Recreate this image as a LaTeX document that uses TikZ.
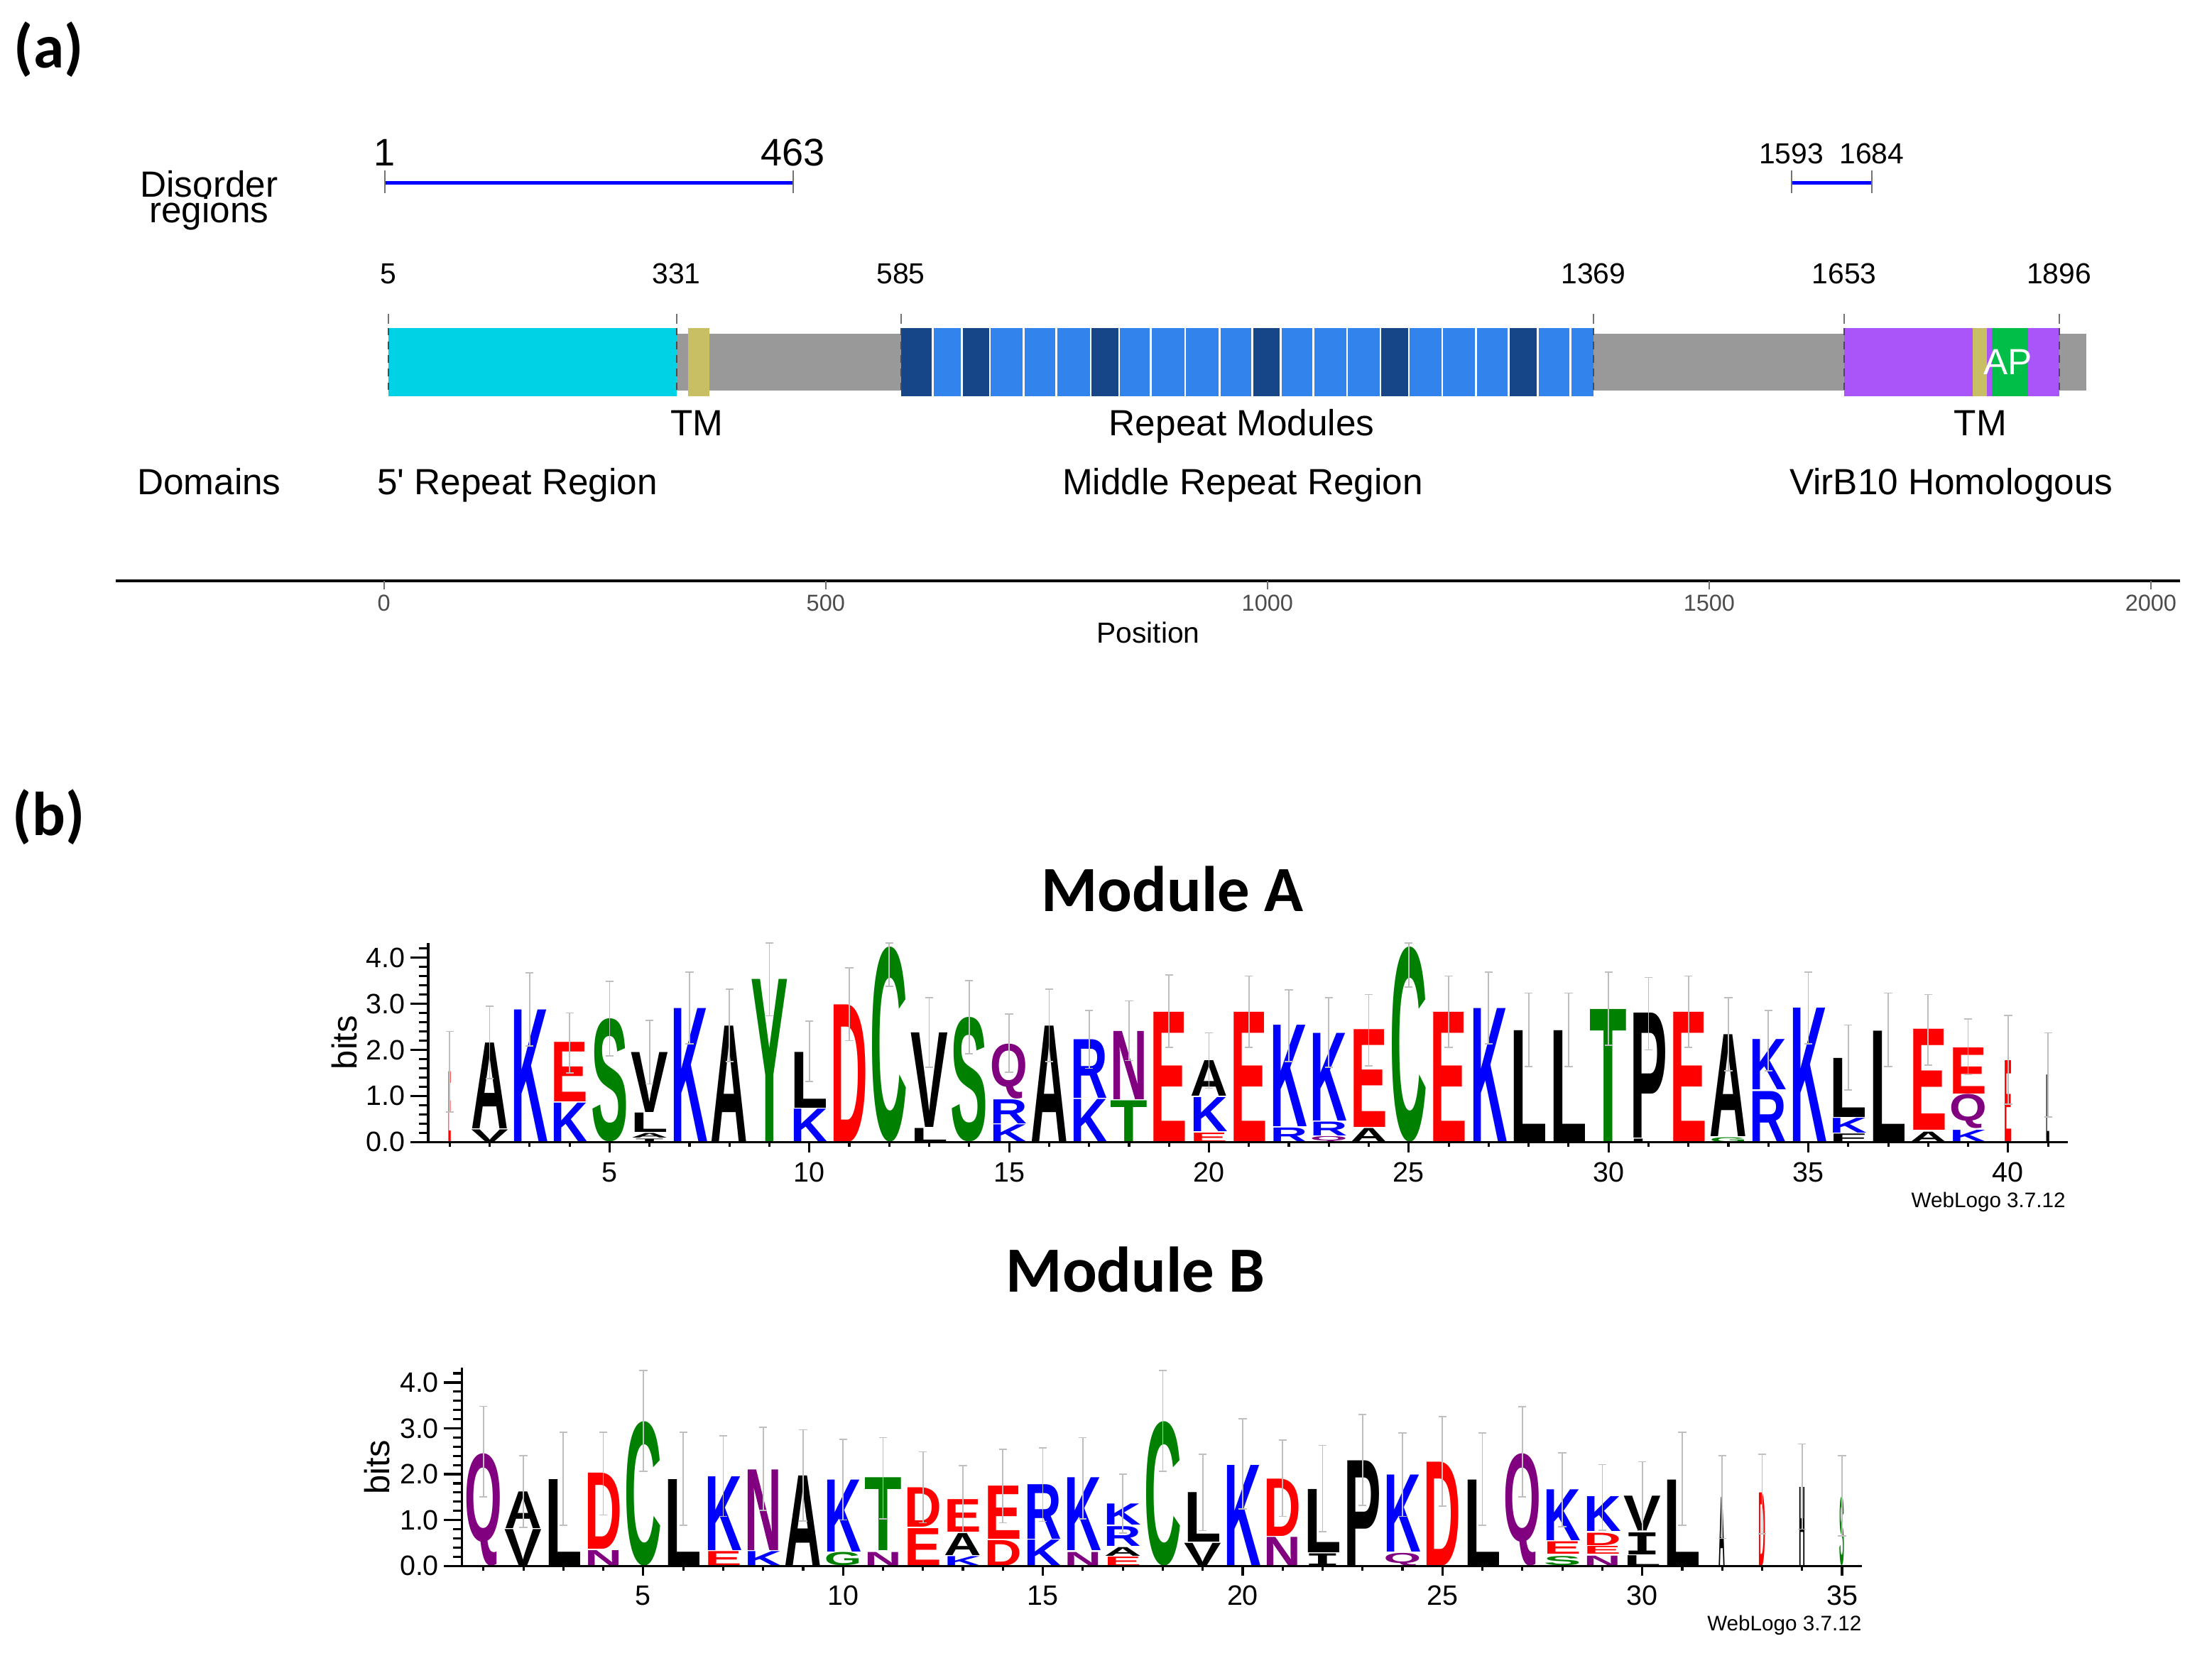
\documentclass[tikz,border=0pt]{standalone}
\usepackage{fontspec}
\usepackage{graphicx}
\setmainfont{Liberation Sans}
\newfontfamily\headfont{Carlito}
\newfontfamily\slabfont{DejaVu Sans Mono}
\newfontfamily\quotefont{Liberation Sans}[Ligatures=TeXOff]
\definecolor{cyanbox}{RGB}{0,210,230}
\definecolor{khaki}{RGB}{200,190,100}
\definecolor{greybar}{RGB}{153,153,153}
\definecolor{lightrep}{RGB}{50,132,236}
\definecolor{darkrep}{RGB}{22,70,135}
\definecolor{virb}{RGB}{170,85,250}
\definecolor{apgreen}{RGB}{0,190,72}
\definecolor{lblue}{RGB}{0,0,255}
\definecolor{lred}{RGB}{255,0,0}
\definecolor{lgreen}{RGB}{0,128,0}
\definecolor{lpurple}{RGB}{128,0,128}
\begin{document}
\begin{tikzpicture}[x=0.02cm, y=-0.02cm,
panel/.style={font=\headfont\bfseries\fontsize{25}{30}\selectfont, inner sep=0},
modtitle/.style={font=\headfont\bfseries\fontsize{26}{31}\selectfont, inner sep=0},
lbl/.style={font=\fontsize{14.7}{17}\selectfont, inner sep=0, anchor=base},
bignum/.style={font=\fontsize{15.5}{18}\selectfont, inner sep=0, anchor=base},
num/.style={font=\fontsize{11.7}{14}\selectfont, inner sep=0, anchor=base},
axnum/.style={font=\fontsize{9.3}{11}\selectfont, text=black!70, inner sep=0, anchor=base},
edgetick/.style={draw=black!55, line width=0.6pt},
domedge/.style={draw=black!70, dash pattern=on 3pt off 2.5pt, line width=0.6pt},
disline/.style={draw=blue, line width=1.4pt},
letter/.style={inner sep=0, outer sep=0, anchor=south, font=\bfseries},
errbar/.style={draw=black!25, line width=0.5pt},
logoaxis/.style={draw=black, line width=0.9pt},
ticklbl/.style={font=\fontsize{11.3}{13}\selectfont, inner sep=0},
bitslbl/.style={font=\fontsize{14}{16}\selectfont, inner sep=0},
wlogo/.style={font=\fontsize{8.5}{10}\selectfont, inner sep=0}]

\useasboundingbox (0,0) rectangle (1568,1182);

% (a) domain map
\node[panel] (pa) at (34.5,35) {(a)};
\begin{scope}[shift={(272.2,0)}, x=0.012527cm]
\node[lbl] (disorder) at (-198,139.5) {Disorder};
\node[lbl] (regions) at (-198,158) {regions};
\draw[disline] (1,129.7) -- (463,129.7);
\draw[disline] (1593,129.7) -- (1684,129.7);
\foreach \r in {1,463,1593,1684}
  \draw[edgetick] (\r,121) -- (\r,137);
\node[bignum] (d1) at (1,117.4) {1};
\node[bignum] (d463) at (463,117.4) {463};
\node[num] (d1593) at (1593,116) {1593};
\node[num] (d1684) at (1684,116) {1684};
\foreach \r in {5,331,585,1369,1653,1896} {
  \node[num] (n\r) at (\r,201.3) {\r};
  \draw[edgetick] (\r,222.7) -- (\r,229.4);
}
% protein bar
\fill[greybar] (5,236.6) rectangle (1927,276.8);
\fill[cyanbox] (5,232.5) rectangle (331,280.8);
\fill[khaki] (344,232.5) rectangle (368,280.8);
\fill[lightrep] (585,232.5) rectangle (1369,280.8);
\foreach \s/\e in {585/621,654/686,800/832,983/1015,1128/1160,1273/1306}
  \fill[darkrep] (\s,232.5) rectangle (\e,280.8);
\foreach \r in {621,654,686,724,761,800,832,868,907,946,983,1015,1052,1090,1128,1160,1198,1236,1273,1306,1343}
  \draw[white, line width=0.7pt] (\r,232.5) -- (\r,280.8);
\fill[virb] (1653,232.5) rectangle (1896,280.8);
\fill[khaki] (1798,232.5) rectangle (1814,280.8);
\fill[apgreen] (1820,232.5) rectangle (1861,280.8);
\node[lbl, anchor=center, text=white] (ap) at (1838,256.8) {AP};
\foreach \r in {5,331,585,1369,1653,1896}
  \draw[domedge] (\r,232.5) -- (\r,280.8);
% labels
\node[lbl] (tm1) at (354,308.7) {TM};
\node[lbl] (rmod) at (971,308.7) {Repeat Modules};
\node[lbl] (tm2) at (1807,308.7) {TM};
\node[lbl] (domains) at (-198,350.8) {Domains};
\node[lbl] (rep5) at (151,350.8) {5{\quotefont '} Repeat Region};
\node[lbl] (midrep) at (972,350.8) {Middle Repeat Region};
\node[lbl] (virb10) at (1774,350.8) {VirB10 Homologous};
% position axis
\draw[line width=1pt] (-304,411.8) -- (2033,411.8);
\foreach \r in {0,500,1000,1500,2000} {
  \draw[edgetick] (\r,411.8) -- (\r,418);
  \node[axnum] (t\r) at (\r,433.2) {\r};
}
\node[num] (position) at (865,456) {Position};
\end{scope}

% (b) sequence logos
\node[panel] (pb) at (34.5,579) {(b)};
\node[modtitle] (moda) at (831,630) {Module A};
\node[modtitle] (modb) at (805,900) {Module B};

% module A
\begin{scope}[shift={(290.47,809.6)}, x=0.5666cm, y=0.654cm]
\def\yunit{0.654}
\foreach \px/\yb/\yt/\ltr/\col [count=\n] in {
 2/0/0.27/V/black, 2/0.29/2.15/A/black, 3/0/2.87/K/lblue,
 4/0/0.85/K/lblue, 4/0.88/2.17/E/lred, 5/0/2.67/S/lgreen,
 6/0/0.07/{\slabfont I}/black, 6/0.09/0.19/A/black, 6/0.21/0.63/L/black, 6/0.65/1.95/V/black,
 7/0/2.9/K/lblue, 8/0/2.52/A/black, 9/0/3.53/Y/lgreen,
 10/0/0.72/K/lblue, 10/0.74/1.95/L/black, 11/0/2.98/D/lred, 12/0/4.23/C/lgreen,
 13/0/0.3/L/black, 13/0.32/2.37/V/black, 14/0/2.7/S/lgreen,
 15/0/0.38/K/lblue, 15/0.4/0.92/R/lblue, 15/0.94/2.13/Q/lpurple,
 16/0/2.52/A/black, 17/0/0.93/K/lblue, 17/0.95/2.22/R/lblue,
 18/0/0.9/T/lgreen, 18/0.92/2.4/N/lpurple, 19/0/2.82/E/lred,
 20/0/0.2/E/lred, 20/0.23/0.97/K/lblue, 20/1.0/1.77/A/black,
 21/0/2.82/E/lred, 22/0/0.31/R/lblue, 22/0.33/2.53/K/lblue,
 23/0/0.12/Q/lpurple, 23/0.14/0.44/R/lblue, 23/0.46/2.36/K/lblue,
 24/0/0.3/A/black, 24/0.32/2.44/E/lred, 25/0/4.23/C/lgreen,
 26/0/2.82/E/lred, 27/0/2.9/K/lblue, 28/0/2.42/L/black, 29/0/2.42/L/black,
 30/0/2.88/T/lgreen, 31/0/0.07/L/black, 31/0.09/2.8/P/black, 32/0/2.82/E/lred,
 33/0/0.1/G/lgreen, 33/0.12/2.33/A/black, 34/0/1.1/R/lblue, 34/1.13/2.22/K/lblue,
 35/0/2.91/K/lblue, 36/0/0.18/F/black, 36/0.2/0.52/K/lblue, 36/0.54/1.82/L/black,
 37/0/2.41/L/black, 38/0/0.22/A/black, 38/0.26/2.45/E/lred,
 39/0/0.26/K/lblue, 39/0.29/1.03/Q/lpurple, 39/1.05/2.05/E/lred} {
  \pgfmathsetmacro\hh{(\yt-\yb)*\yunit}
  \node[letter, text=\col] (a\n) at (\px,\yb) {\resizebox*{0.53cm}{\hh cm}{\ltr}};
}
\foreach \px/\yt/\ltr/\col/\w [count=\n] in {1/1.53/E/lred/0.04, 40/1.77/E/lred/0.11, 41/1.46/L/black/0.05} {
  \pgfmathsetmacro\hh{\yt*\yunit}
  \node[letter, text=\col] (at\n) at (\px,0) {\resizebox*{\w cm}{\hh cm}{\ltr}};
}
\foreach \px/\lo/\hi in {1/0.65/2.4, 2/1.38/2.95, 3/2.08/3.67, 4/1.5/2.8, 5/1.87/3.49,
 6/1.26/2.64, 7/2.13/3.69, 8/1.74/3.32, 9/2.74/4.32, 10/1.31/2.62, 11/2.2/3.78,
 12/3.38/4.32, 13/1.62/3.13, 14/1.92/3.5, 15/1.52/2.78, 16/1.74/3.32, 17/1.6/2.85,
 18/1.77/3.06, 19/2.05/3.62, 20/1.17/2.37, 21/2.05/3.6, 22/1.75/3.3, 23/1.62/3.13,
 24/1.65/3.2, 25/3.36/4.32, 26/2.05/3.6, 27/2.13/3.69, 28/1.64/3.23, 29/1.64/3.23,
 30/2.1/3.68, 31/2.0/3.57, 32/2.05/3.6, 33/1.54/3.13, 34/1.54/2.85, 35/2.13/3.69,
 36/1.13/2.54, 37/1.64/3.23, 38/1.67/3.2, 39/1.46/2.67, 40/0.82/2.75, 41/0.54/2.37}
  \draw[errbar] (\px,\lo) -- (\px,\hi) (\px-0.1,\lo) -- (\px+0.1,\lo) (\px-0.1,\hi) -- (\px+0.1,\hi);
% axes
\draw[logoaxis] (0.46,0) -- (41.5,0);
\draw[logoaxis] (0.46,0) -- (0.46,4.32);
\foreach \k in {0,...,21}
  \draw[logoaxis] (0.46,\k*0.2) -- (0.234,\k*0.2);
\foreach \k in {0,...,4} {
  \draw[logoaxis] (0.46,\k) -- (0.015,\k);
  \node[ticklbl, anchor=east] (ya\k) at (-0.105,\k) {\k.0};
}
\foreach \px in {1,...,41}
  \draw[logoaxis] (\px,0) -- (\px,-0.1);
\foreach \px in {5,10,...,40} {
  \draw[logoaxis] (\px,0) -- (\px,-0.22);
  \node[ticklbl] (xa\px) at (\px,-0.654) {\px};
}
\node[bitslbl, rotate=90] (bitsa) at (-1.64,2.16) {bits};
\node[wlogo, anchor=east] (wla) at (41.45,-1.3) {WebLogo 3.7.12};
\end{scope}

% module B
\begin{scope}[shift={(314.37,1110)}, x=0.5666cm, y=0.65cm]
\def\yunit{0.65}
\foreach \px/\yb/\yt/\ltr/\col [count=\n] in {
 1/0/2.45/Q/lpurple, 2/0/0.8/V/black, 2/0.82/1.62/A/black, 3/0/1.89/L/black,
 4/0/0.34/N/lpurple, 4/0.36/2.02/D/lred, 5/0/3.15/C/lgreen, 6/0/1.89/L/black,
 7/0/0.32/E/lred, 7/0.34/1.95/K/lblue, 8/0/0.32/K/lblue, 8/0.34/2.1/N/lpurple,
 9/0/1.97/A/black, 10/0/0.29/G/lgreen, 10/0.31/1.88/K/lblue,
 11/0/0.3/N/lpurple, 11/0.33/1.92/T/lgreen, 12/0/0.82/E/lred, 12/0.84/1.7/D/lred,
 13/0/0.21/K/lblue, 13/0.23/0.71/A/black, 13/0.74/1.45/E/lred,
 14/0/0.56/D/lred, 14/0.58/1.74/E/lred, 15/0/0.57/K/lblue, 15/0.59/1.78/R/lblue,
 16/0/0.3/N/lpurple, 16/0.33/1.92/K/lblue,
 17/0/0.2/E/lred, 17/0.21/0.4/A/black, 17/0.43/0.86/R/lblue, 17/0.89/1.35/K/lblue,
 18/0/3.15/C/lgreen, 19/0/0.5/V/black, 19/0.52/1.6/L/black, 20/0/2.2/K/lblue,
 21/0/0.63/N/lpurple, 21/0.65/1.9/D/lred, 22/0/0.27/{\slabfont I}/black, 22/0.29/1.67/L/black,
 23/0/2.3/P/black, 24/0/0.28/Q/lpurple, 24/0.3/1.98/K/lblue, 25/0/2.27/D/lred,
 26/0/1.88/L/black, 27/0/2.45/Q/lpurple,
 28/0/0.2/S/lgreen, 28/0.26/0.53/E/lred, 28/0.56/1.67/K/lblue,
 29/0/0.22/N/lpurple, 29/0.26/0.43/E/lred, 29/0.45/0.72/D/lred, 29/0.75/1.51/K/lblue,
 30/0/0.23/L/black, 30/0.25/0.73/{\slabfont I}/black, 30/0.75/1.52/V/black, 31/0/1.88/L/black} {
  \pgfmathsetmacro\hh{(\yt-\yb)*\yunit}
  \node[letter, text=\col] (b\n) at (\px,\yb) {\resizebox*{0.53cm}{\hh cm}{\ltr}};
}
\foreach \px/\yt/\ltr/\col/\w [count=\n] in {32/1.5/A/black/0.09, 33/1.6/D/lred/0.1, 34/1.72/H/black/0.09, 35/1.5/S/lgreen/0.07} {
  \pgfmathsetmacro\hh{\yt*\yunit}
  \node[letter, text=\col] (bt\n) at (\px,0) {\resizebox*{\w cm}{\hh cm}{\ltr}};
}
\foreach \px/\lo/\hi in {1/1.5/3.48, 2/0.84/2.4, 3/0.88/2.92, 4/1.11/2.92, 5/2.06/4.26,
 6/0.88/2.92, 7/1.08/2.84, 8/1.21/3.02, 9/0.98/2.97, 10/1.0/2.76, 11/1.03/2.8,
 12/0.94/2.49, 13/0.74/2.19, 14/0.94/2.54, 15/0.97/2.57, 16/1.03/2.8, 17/0.71/2.0,
 18/2.06/4.26, 19/0.77/2.43, 20/1.24/3.21, 21/1.08/2.74, 22/0.75/2.63, 23/1.32/3.3,
 24/1.08/2.9, 25/1.3/3.26, 26/0.88/2.9, 27/1.5/3.47, 28/0.85/2.47, 29/0.78/2.21,
 30/0.77/2.27, 31/0.88/2.92, 32/0.6/2.4, 33/0.7/2.43, 34/0.8/2.66, 35/0.65/2.4}
  \draw[errbar] (\px,\lo) -- (\px,\hi) (\px-0.1,\lo) -- (\px+0.1,\lo) (\px-0.1,\hi) -- (\px+0.1,\hi);
% axes
\draw[logoaxis] (0.46,0) -- (35.5,0);
\draw[logoaxis] (0.46,0) -- (0.46,4.32);
\foreach \k in {0,...,21}
  \draw[logoaxis] (0.46,\k*0.2) -- (0.234,\k*0.2);
\foreach \k in {0,...,4} {
  \draw[logoaxis] (0.46,\k) -- (0.015,\k);
  \node[ticklbl, anchor=east] (yb\k) at (-0.105,\k) {\k.0};
}
\foreach \px in {1,...,35}
  \draw[logoaxis] (\px,0) -- (\px,-0.1);
\foreach \px in {5,10,...,35} {
  \draw[logoaxis] (\px,0) -- (\px,-0.22);
  \node[ticklbl] (xb\px) at (\px,-0.645) {\px};
}
\node[bitslbl, rotate=90] (bitsb) at (-1.67,2.15) {bits};
\node[wlogo, anchor=east] (wlb) at (35.5,-1.3) {WebLogo 3.7.12};
\end{scope}
\end{tikzpicture}
\end{document}
